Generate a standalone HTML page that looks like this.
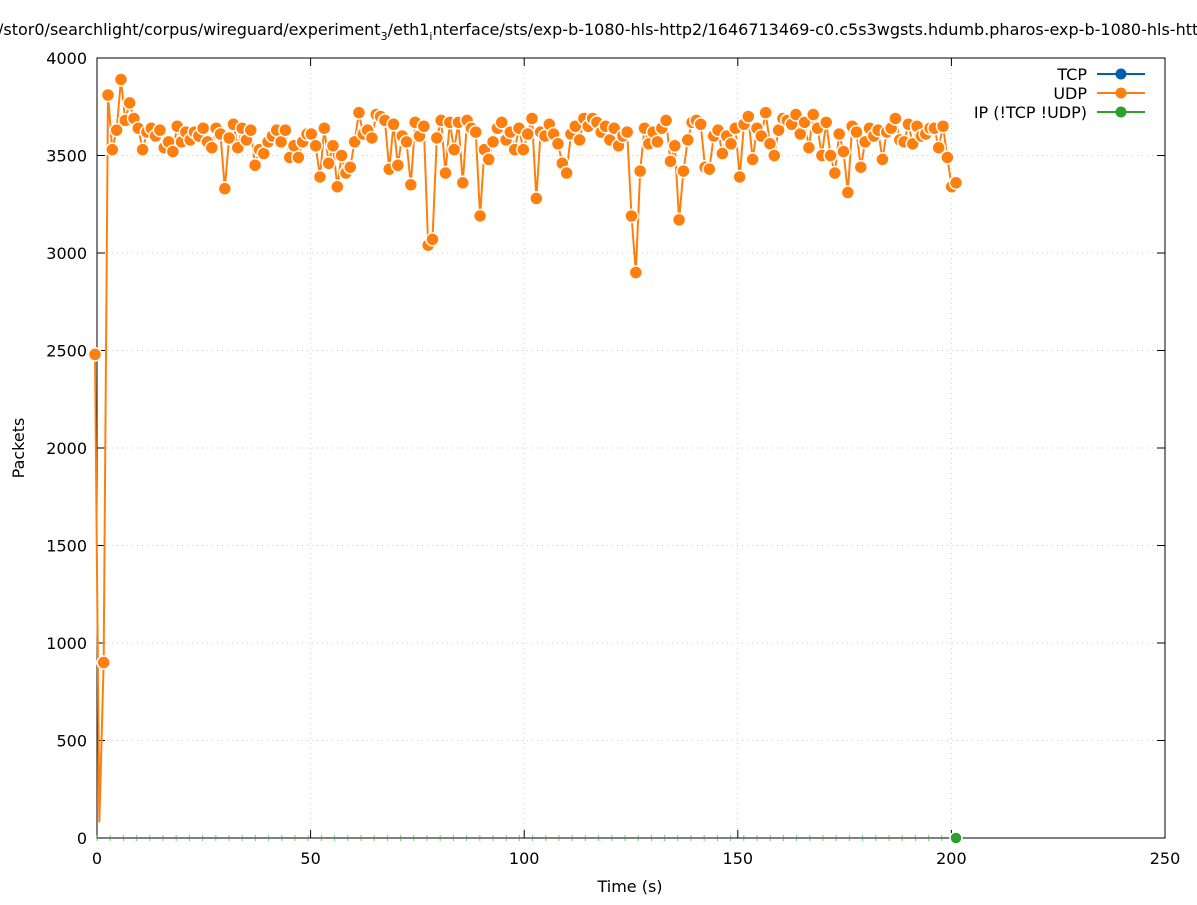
<!DOCTYPE html>
<html><head><meta charset="utf-8"><style>
body{margin:0;background:#fff;width:1197px;height:900px;overflow:hidden}
svg{font-family:"DejaVu Sans","Liberation Sans",sans-serif}
</style></head><body>
<svg id="s" width="1197" height="900" xmlns="http://www.w3.org/2000/svg">
<text x="-2" y="35" font-size="16">/stor0/searchlight/corpus/wireguard/experiment<tspan font-size="11" dy="5">3</tspan><tspan dy="-5">/eth1</tspan><tspan font-size="11" dy="5">i</tspan><tspan dy="-5">nterface/sts/exp-b-1080-hls-http2/1646713469-c0.c5s3wgsts.hdumb.pharos-exp-b-1080-hls-http2</tspan></text>
<g id="grid" stroke="#ccc" stroke-dasharray="1,4" stroke-width="1"></g>
<g id="ax" stroke="#000" stroke-width="1" fill="none"></g>
<g id="lbl" font-size="16" fill="#000"></g>
<text x="630" y="892" font-size="16" text-anchor="middle">Time (s)</text>
<text x="24" y="448" font-size="16" text-anchor="middle" transform="rotate(-90 24 448)">Packets</text>
<g id="data"></g>
<g font-size="16" text-anchor="end">
<text x="1087" y="80">TCP</text><text x="1087" y="99">UDP</text><text x="1087" y="118">IP (!TCP  !UDP)</text>
</g>
<g stroke-width="2">
<line x1="1097" y1="74" x2="1145" y2="74" stroke="#0060ad"/><circle cx="1121" cy="74" r="5.5" fill="#0060ad"/>
<line x1="1097" y1="93" x2="1145" y2="93" stroke="#ff7f0e"/><circle cx="1121" cy="93" r="5.5" fill="#ff7f0e"/>
<line x1="1097" y1="112" x2="1145" y2="112" stroke="#2ca02c"/><circle cx="1121" cy="112" r="5.5" fill="#2ca02c"/>
</g>
</svg>
<script>
var NS="http://www.w3.org/2000/svg";
function el(p,t,a){var e=document.createElementNS(NS,t);for(var k in a)e.setAttribute(k,a[k]);document.getElementById(p).appendChild(e);return e;}
var L=97,R=1165,T=58,B=838;
function X(t){return L+t*(R-L)/250;}function Y(v){return B-v*(B-T)/4000;}
for(var i=0;i<=8;i++){var y=Y(i*500);
 if(i>0&&i<8)el("grid","line",{x1:L,x2:R,y1:y,y2:y});
 el("ax","line",{x1:L,x2:L+8,y1:y,y2:y});el("ax","line",{x1:R-8,x2:R,y1:y,y2:y});
 var t=el("lbl","text",{x:87,y:y+6,"text-anchor":"end"});t.textContent=i*500;}
for(var i=0;i<=5;i++){var x=X(i*50);
 if(i>0&&i<5)el("grid","line",{x1:x,x2:x,y1:T,y2:B});
 el("ax","line",{x1:x,x2:x,y1:B,y2:B-8});el("ax","line",{x1:x,x2:x,y1:T,y2:T+8});
 var t=el("lbl","text",{x:x,y:864,"text-anchor":"middle"});t.textContent=i*50;}
el("ax","rect",{x:L,y:T,width:R-L,height:B-T});
var v=[2480,80,900,3810,3530,3630,3890,3680,3770,3690,3640,3530,3620,3640,3600,3630,3540,3570,3520,3650,3570,3620,3580,3620,3600,3640,3570,3540,3640,3610,3330,3590,3660,3540,3640,3580,3630,3450,3530,3510,3570,3600,3630,3570,3630,3490,3550,3490,3570,3610,3610,3550,3390,3640,3460,3550,3340,3500,3410,3440,3570,3720,3610,3630,3590,3710,3700,3680,3430,3660,3450,3600,3570,3350,3670,3600,3650,3040,3070,3590,3680,3410,3670,3530,3670,3360,3680,3640,3620,3190,3530,3480,3570,3640,3670,3580,3620,3530,3640,3530,3610,3690,3280,3620,3600,3660,3610,3560,3460,3410,3610,3650,3580,3690,3650,3690,3670,3620,3650,3580,3640,3550,3600,3620,3190,2900,3420,3640,3560,3620,3570,3640,3680,3470,3550,3170,3420,3580,3670,3680,3660,3440,3430,3600,3630,3510,3600,3560,3640,3390,3660,3700,3480,3640,3600,3720,3560,3500,3630,3690,3680,3660,3710,3610,3670,3540,3710,3640,3500,3670,3500,3410,3610,3520,3310,3650,3620,3440,3570,3640,3600,3630,3480,3620,3640,3690,3580,3570,3660,3560,3650,3600,3610,3640,3640,3540,3650,3490,3340,3360];
var n=v.length,x0=95,x1=956,pts=[];
for(var i=0;i<n;i++)pts.push([x0+(x1-x0)*i/(n-1),Y(v[i])]);
for(var x=97;x<950;x+=13.2)el("data","line",{x1:x,x2:x,y1:B-3,y2:B+3,stroke:"#2ca02c","stroke-width":1,opacity:0.6});
el("data","polyline",{points:pts.map(function(p){return p.join(",")}).join(" "),fill:"none",stroke:"#ff7f0e","stroke-width":2});
for(var i=0;i<n;i++){if(i==1)continue;el("data","circle",{cx:pts[i][0],cy:pts[i][1],r:6.5,fill:"#ff7f0e",stroke:"#fff","stroke-width":1.5});}
el("data","circle",{cx:956,cy:B,r:6,fill:"#2ca02c",stroke:"#fff","stroke-width":1.5});
</script>
</body></html>
